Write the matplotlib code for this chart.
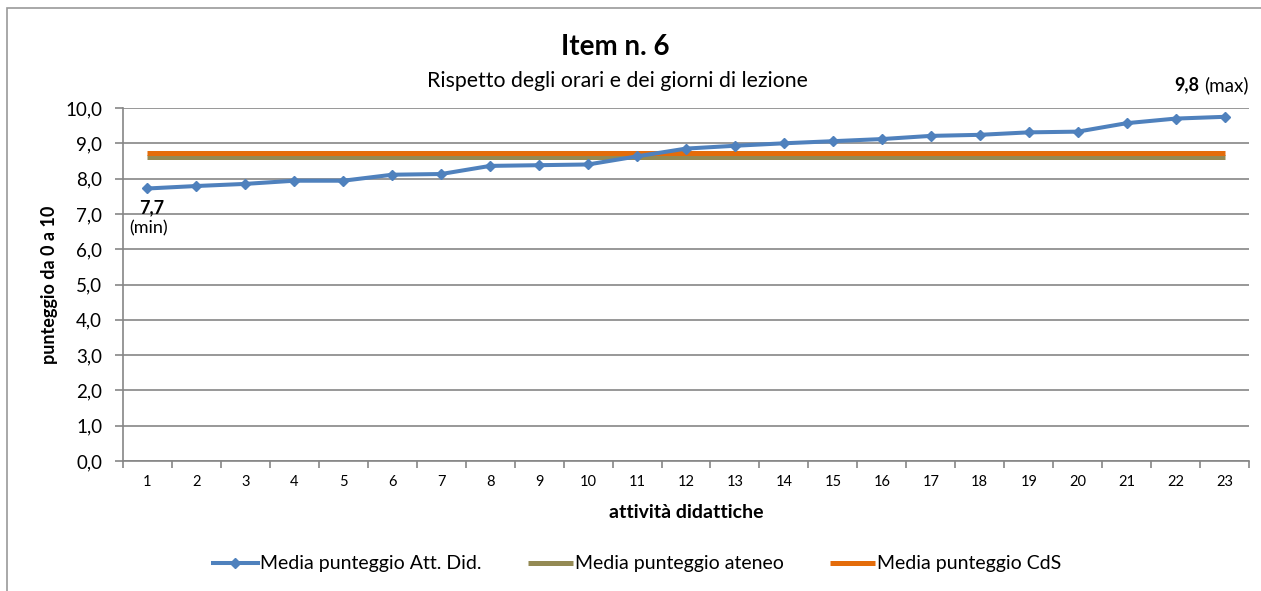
import numpy as np
import matplotlib.pyplot as plt
from matplotlib.patches import Rectangle
from matplotlib.ticker import FuncFormatter

plt.rcParams['font.family'] = ['Lato', 'DejaVu Sans']

# data
attivita = list(range(1, 24))
media_att = [7.72, 7.79, 7.85, 7.94, 7.94, 8.11, 8.13, 8.36, 8.38, 8.40, 8.63,
             8.85, 8.93, 9.00, 9.06, 9.12, 9.21, 9.24, 9.31, 9.33, 9.57, 9.70, 9.75]
media_ateneo = [8.60] * 23
media_cds = [8.72] * 23

title = 'Item n. 6'
subtitle = 'Rispetto degli orari e dei giorni di lezione'
legend_labels = ['Media punteggio Att. Did.', 'Media punteggio ateneo', 'Media punteggio CdS']

BLUE = '#4F81BD'
OLIVE = '#948A54'
ORANGE = '#E46C0A'
GRID = '#868686'

W, H = 1261, 591
fig = plt.figure(figsize=(W / 100, H / 100), dpi=100)
fig.patches.append(Rectangle((7 / W, -0.1), 1.2, 1 - 8 / H + 0.1, transform=fig.transFigure,
                             fill=False, edgecolor='#9a9a9a', linewidth=1.2))

ax = fig.add_axes([123 / W, 1 - 461 / H, (1249 - 123) / W, (461 - 108) / H])

l1, = ax.plot(attivita, media_att, color=BLUE, lw=2.9, marker='D', ms=5.5, zorder=5)
l2, = ax.plot(attivita, media_ateneo, color=OLIVE, lw=3.6, solid_capstyle='butt', zorder=3)
l3, = ax.plot(attivita, media_cds, color=ORANGE, lw=3.6, solid_capstyle='butt', zorder=4)

ax.set_ylim(0, 10)
ax.set_xlim(0.5, 23.5)
ax.set_yticks(np.arange(0, 11, 1))
ax.yaxis.set_major_formatter(FuncFormatter(lambda v, p: f'{v:.1f}'.replace('.', ',')))
ax.set_xticks(attivita)
ax.set_xticks(np.arange(0.5, 24, 1), minor=True)
ax.tick_params(axis='x', which='major', length=0, labelsize=10.5, pad=10)
ax.tick_params(axis='x', which='minor', length=5, color=GRID, width=1.2)
ax.tick_params(axis='y', length=6, color=GRID, width=1.2, labelsize=13.5, pad=9)
ax.grid(axis='y', color=GRID, lw=1.2)
ax.set_axisbelow(True)
for s in ['top', 'right']:
    ax.spines[s].set_visible(False)
for s in ['left', 'bottom']:
    ax.spines[s].set_color(GRID)
    ax.spines[s].set_linewidth(1.2)

ax.set_xlabel('attività didattiche', fontsize=14, fontweight='bold', va='center')
ax.xaxis.set_label_coords(0.5, -(513 - 461) / 353)
ax.set_ylabel('punteggio da 0 a 10', fontsize=13, fontweight='bold', va='center')
ax.yaxis.set_label_coords(-(123 - 50) / 1126, 0.5)

# min / max labels
i_min = int(np.argmin(media_att))
i_max = int(np.argmax(media_att))
ax.annotate(f'{media_att[i_min]:.1f}'.replace('.', ','), (attivita[i_min], media_att[i_min]),
            xytext=(3, -14), textcoords='offset points', ha='center', va='center',
            fontsize=13, fontweight='bold')
ax.annotate('(min)', (attivita[i_min], media_att[i_min]),
            xytext=(1, -29), textcoords='offset points', ha='center', va='center', fontsize=13)
ax.annotate(f'{media_att[i_max]:.1f}'.replace('.', ','), (attivita[i_max], media_att[i_max]),
            xytext=(-36, 23), textcoords='offset points', ha='left', va='center',
            fontsize=13, fontweight='bold')
ax.annotate('(max)', (attivita[i_max], media_att[i_max]),
            xytext=(-14.5, 23), textcoords='offset points', ha='left', va='center', fontsize=13.5)

fig.text(615 / W, 1 - 55 / H, title, ha='center', va='baseline', fontsize=20, fontweight='bold')
fig.text(617 / W, 1 - 87 / H, subtitle, ha='center', va='baseline', fontsize=15.3)

fig.legend([l1, l2, l3], legend_labels, loc='center', bbox_to_anchor=(637 / W, 1 - 564 / H),
           ncol=3, frameon=False, fontsize=14, handlelength=2.3, handletextpad=0.1,
           columnspacing=2.4)

fig.savefig('out.png', dpi=100)
